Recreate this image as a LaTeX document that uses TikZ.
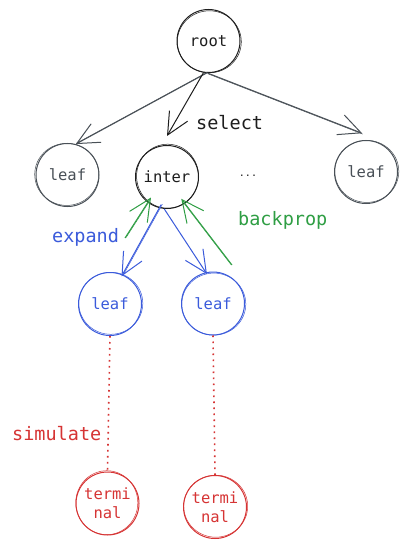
\documentclass[tikz,border=0pt]{standalone}
\usepackage{fontspec}
\setmonofont{DejaVu Sans Mono}
\usetikzlibrary{arrows.meta,calc}
\definecolor{cblack}{HTML}{1E1E1E}
\definecolor{cgray}{HTML}{495057}
\definecolor{cblue}{HTML}{3B5BDB}
\definecolor{cgreen}{HTML}{2F9E44}
\definecolor{cred}{HTML}{D63434}
\begin{document}
\begin{tikzpicture}[x=1pt,y=-1pt,
  nd/.style={circle, draw, minimum size=63pt, inner sep=0pt, line width=1pt,
    font=\ttfamily\fontsize{15.5}{19}\selectfont, align=center},
  lbl/.style={font=\ttfamily\fontsize{18.5}{20}\selectfont, inner sep=0pt, anchor=base west},
  arr/.style={line width=1pt, -{Straight Barb[length=22pt,width=21pt]}},
  sk/.style={line width=0.5pt},
  dotline/.style={line width=1.6pt, dash pattern=on 1.6pt off 4.4pt}
]
\fill[white] (0,0) rectangle (408,548);
\useasboundingbox (0,0) rectangle (408,548);

% nodes
\node[nd, cblack] (root) at (208.5,41) {root};
\node[nd, cgray] (leafL) at (67.5,175) {leaf};
\node[nd, cblack] (inter) at (167,177) {inter};
\node[cblack, font=\ttfamily\fontsize{10}{12}\selectfont, inner sep=0pt] (dots) at (248,176) {...};
\node[nd, cgray] (leafR) at (366,172) {leaf};
\node[nd, cblue] (b1) at (110,304) {leaf};
\node[nd, cblue] (b2) at (213,303.5) {leaf};
\node[nd, cred] (t1) at (107.5,503.5) {termi\\nal};
\node[nd, cred] (t2) at (215,507) {termi\\nal};

% sketchy second strokes
\draw[sk, cblack] ([shift={(0.8pt,-0.8pt)}]root.center) circle[x radius=32pt, y radius=31pt];
\draw[sk, cgray] ([shift={(-0.8pt,0.6pt)}]leafL.center) circle[x radius=32pt, y radius=31pt];
\draw[sk, cblack] ([shift={(0.6pt,0.8pt)}]inter.center) circle[x radius=31pt, y radius=32pt];
\draw[sk, cgray] ([shift={(0.8pt,0.6pt)}]leafR.center) circle[x radius=32pt, y radius=31pt];
\draw[sk, cblue] ([shift={(0.8pt,0.7pt)}]b1.center) circle[x radius=32pt, y radius=31pt];
\draw[sk, cblue] ([shift={(0.8pt,-0.6pt)}]b2.center) circle[x radius=32pt, y radius=31pt];
\draw[sk, cred] ([shift={(-0.7pt,0.8pt)}]t1.center) circle[x radius=31pt, y radius=32pt];
\draw[sk, cred] ([shift={(0.7pt,0.8pt)}]t2.center) circle[x radius=32pt, y radius=31pt];

% labels
\node[lbl, cblack] (lselect) at (196,130) {select};
\node[lbl, cblue] (lexpand) at (52,242.5) {expand};
\node[lbl, cgreen] (lback) at (238,225) {backprop};
\node[lbl, cred] (lsim) at (12,440) {simulate};

% select arrows
\draw[arr, cgray] (root.267) -- (leafL.75);
\draw[sk, cgray] ([shift={(0.6pt,0.8pt)}]root.267) -- ([shift={(0.6pt,0.8pt)}]leafL.75);
\draw[arr, cblack] (root.261) -- ([yshift=9pt]inter.north);
\draw[arr, cgray] (root.268) -- ([yshift=7pt]leafR.97);
\draw[sk, cgray] ([shift={(0.5pt,-0.8pt)}]root.268) -- ([shift={(0.5pt,6.2pt)}]leafR.97);

% expand arrows
\draw[arr, cblue, shorten <=-4pt, shorten >=-2pt] (inter.256) -- (b1.67);
\draw[sk, cblue, shorten <=-4pt] ([shift={(1.2pt,0.4pt)}]inter.256) -- ([shift={(1.2pt,0.4pt)}]b1.67);
\draw[arr, cblue, shorten >=-2pt] (inter.265) -- (b2.103);

% backprop arrows
\coordinate (g1) at (125,238);
\coordinate (g2) at (232,265);
\draw[arr, cgreen, shorten >=-6pt] (g1) -- (inter.233);
\draw[sk, cgreen] ([shift={(1.1pt,0.5pt)}]g1) -- ([shift={(1.1pt,0.5pt)}]inter.233);
\draw[arr, cgreen, shorten >=-6pt] (g2) -- (inter.304);
\draw[sk, cgreen] ([shift={(-1.1pt,0.5pt)}]g2) -- ([shift={(-1.1pt,0.5pt)}]inter.304);

% simulate
\draw[dotline, cred] (b1.south) -- (t1.north);
\draw[dotline, cred] (b2.south) -- (t2.north);
\end{tikzpicture}
\end{document}
